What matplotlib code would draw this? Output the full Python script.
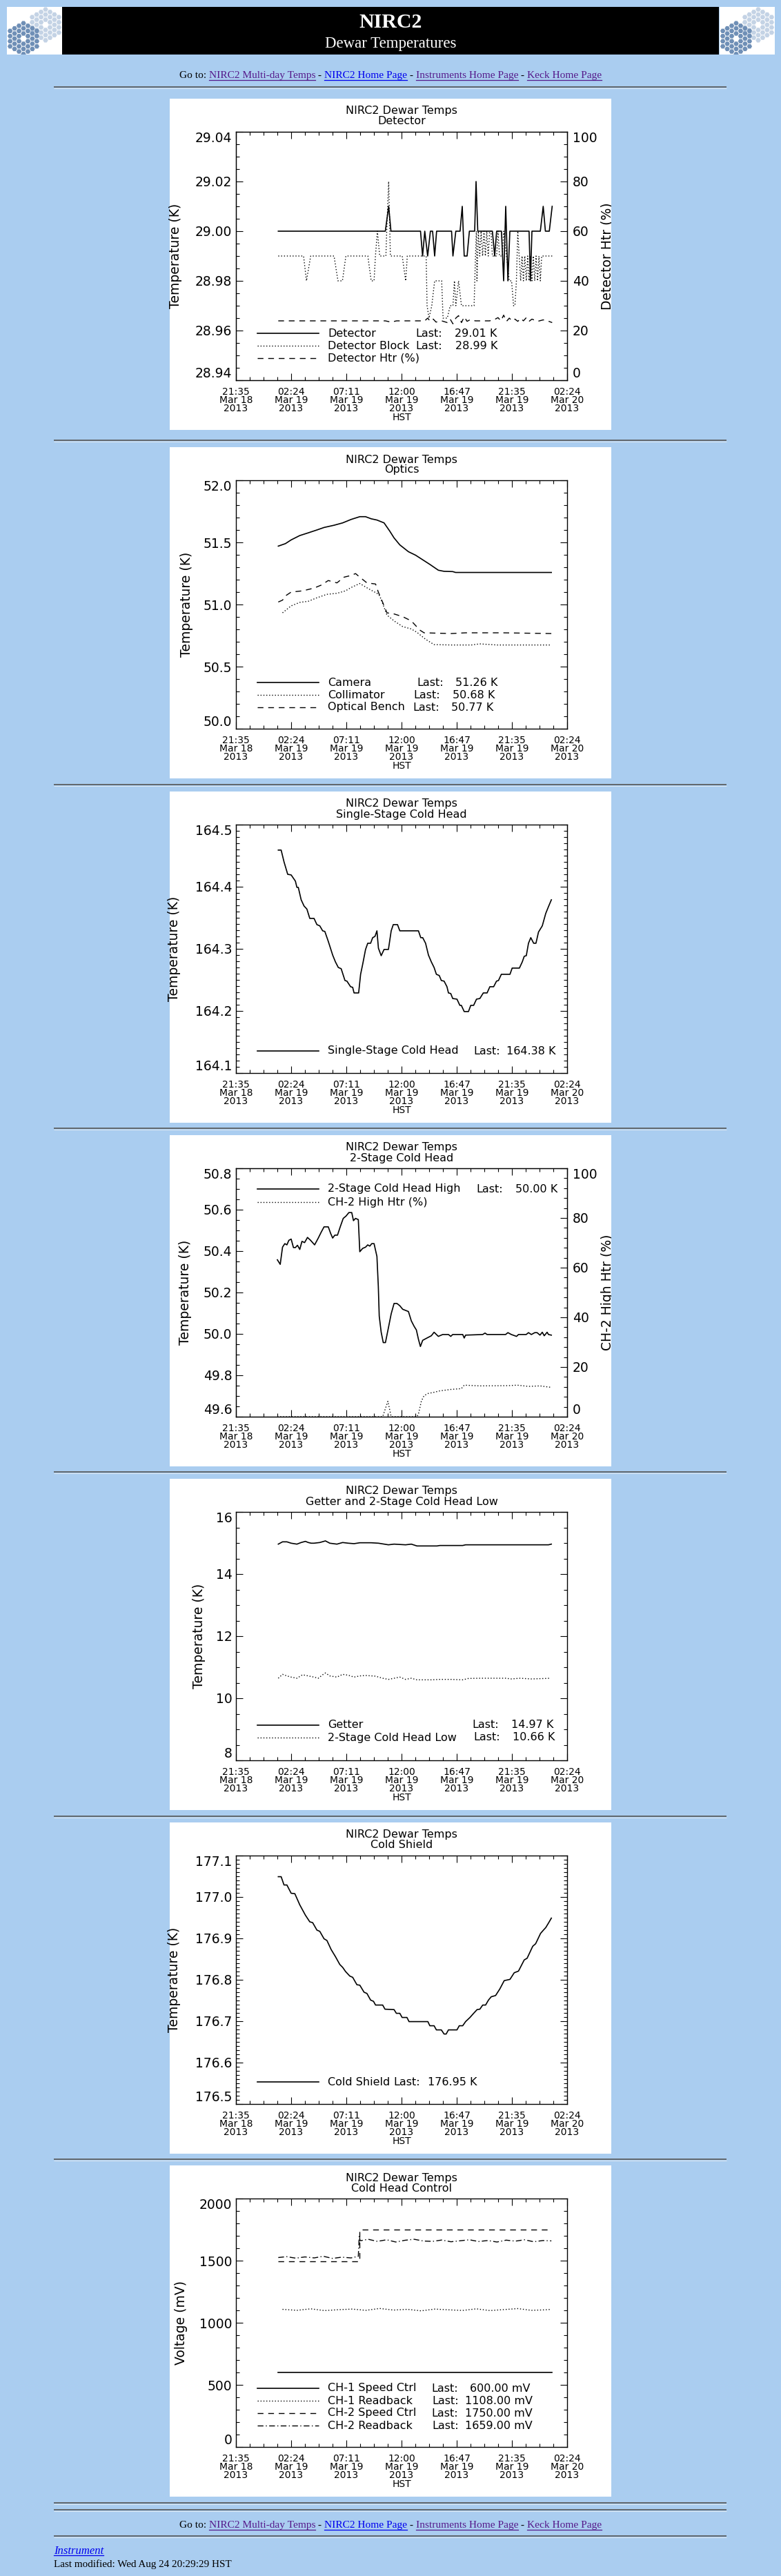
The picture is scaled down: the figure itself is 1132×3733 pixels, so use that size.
import numpy as np
import matplotlib
matplotlib.use('Agg')
import matplotlib.pyplot as plt
from matplotlib.lines import Line2D
from matplotlib.patches import Rectangle, RegularPolygon
from matplotlib.ticker import MultipleLocator

plt.rcParams['font.family'] = ['DejaVu Sans']

# time axis: hours after 21:35 HST, Mar 18 2013
XTICKS = [0, 4.8, 9.6, 14.4, 19.2, 24.0, 28.8]
XTICK_LABELS = ['21:35\nMar 18\n2013', '02:24\nMar 19\n2013', '07:11\nMar 19\n2013',
                '12:00\nMar 19\n2013', '16:47\nMar 19\n2013', '21:35\nMar 19\n2013',
                '02:24\nMar 20\n2013']

# --- Detector ---
det_t = [3.68, 12.99, 13.28, 13.48, 16.05, 16.23, 16.42, 16.67, 16.91, 17.10,
         17.28, 17.45, 18.75, 18.87, 19.12, 19.49, 19.68, 19.85, 20.10, 20.30,
         20.76, 20.88, 21.03, 22.30, 22.50, 22.67, 23.09, 23.28, 23.46, 23.65,
         23.82, 25.49, 25.61, 25.74, 26.47, 26.72, 26.91, 27.25, 27.50]
det_v = [29.00, 29.00, 29.01, 29.00, 29.00, 28.99, 29.00, 28.99, 29.00, 29.00,
         28.99, 29.00, 29.00, 28.99, 29.00, 29.00, 29.01, 28.99, 28.99, 29.00,
         29.00, 29.02, 29.00, 29.00, 28.99, 29.00, 29.00, 28.98, 29.01, 28.98,
         29.00, 29.00, 28.98, 29.00, 29.00, 29.01, 29.00, 29.00, 29.01]
blk_t = [3.68, 5.88, 6.13, 6.50, 8.53, 8.87, 9.26, 9.56, 11.47, 11.76,
         12.01, 12.13, 12.30, 12.50, 13.04, 13.11, 13.28, 13.43, 14.46, 14.76,
         14.90, 16.05, 16.30, 16.42, 16.54, 16.62, 16.79, 17.03, 17.28, 17.89,
         18.01, 18.38, 18.63, 18.87, 19.00, 19.12, 19.36, 19.61, 19.73, 20.71,
         20.83, 20.91, 20.96, 21.08, 21.20, 21.32, 21.45, 21.57, 21.69, 21.81,
         21.94, 22.06, 22.18, 22.30, 22.43, 22.67, 22.79, 22.92, 23.16, 23.28,
         23.53, 23.65, 23.77, 23.97, 24.14, 24.26, 24.39, 24.51, 24.63, 24.76,
         24.88, 25.00, 25.12, 25.25, 25.37, 25.49, 25.61, 25.74, 25.86, 25.98,
         26.10, 26.23, 26.35, 26.47, 26.59, 26.72, 27.50]
blk_v = [28.99, 28.99, 28.98, 28.99, 28.99, 28.98, 28.98, 28.99, 28.99, 28.98,
         28.98, 28.99, 29.00, 28.99, 28.99, 29.00, 29.02, 28.99, 28.99, 28.98,
         28.99, 28.99, 28.99, 28.99, 28.99, 28.97, 28.965, 28.97, 28.98, 28.98,
         28.965, 28.965, 28.97, 28.97, 28.98, 28.97, 28.98, 28.97, 28.97, 28.97,
         28.99, 29.00, 28.98, 29.00, 28.99, 29.00, 28.99, 29.00, 28.99, 29.00,
         28.99, 29.00, 29.00, 28.99, 28.99, 28.99, 29.00, 28.99, 28.99, 29.00,
         28.99, 28.985, 28.98, 28.98, 28.97, 28.97, 28.98, 29.00, 28.99, 28.98,
         28.99, 28.98, 28.99, 28.98, 28.99, 28.98, 28.99, 28.98, 28.99, 28.98,
         28.99, 28.98, 28.99, 28.98, 28.99, 28.99, 28.99]
htr_t = [3.68, 12.99, 13.48, 13.97, 16.42, 16.67, 16.91, 17.16, 17.40, 17.89,
         18.38, 18.63, 18.87, 19.12, 19.36, 19.61, 19.85, 20.10, 20.34, 20.83,
         22.06, 22.55, 22.79, 23.04, 23.28, 23.53, 23.77, 24.02, 24.26, 24.51,
         24.76, 25.00, 25.25, 25.49, 25.74, 26.23, 26.72, 27.21, 27.50]
htr_v = [23.9, 23.9, 23.4, 23.9, 23.9, 25.0, 23.7, 24.6, 23.4, 23.9,
         23.2, 24.6, 22.7, 25.0, 26.0, 23.2, 25.5, 23.7, 24.3, 23.9,
         23.9, 24.6, 25.2, 23.9, 26.2, 23.7, 25.0, 23.9, 24.6, 23.7,
         24.9, 23.9, 25.2, 23.7, 24.6, 23.7, 24.3, 23.7, 23.2]

# --- Optics ---
cam_t = [3.68, 4.30, 4.80, 5.55, 6.29, 7.04, 7.66, 8.53, 9.28, 10.02,
         10.77, 11.27, 11.76, 12.26, 12.88, 13.38, 13.75, 14.25, 15.00, 15.62,
         16.24, 16.86, 17.60, 18.10, 18.85, 19.10, 27.43]
cam_v = [51.47, 51.49, 51.52, 51.555, 51.577, 51.60, 51.62, 51.638, 51.657, 51.685,
         51.707, 51.707, 51.69, 51.68, 51.657, 51.59, 51.536, 51.48, 51.425, 51.397,
         51.36, 51.323, 51.276, 51.267, 51.265, 51.258, 51.258]
col_t = [4.05, 4.80, 5.55, 6.29, 7.04, 7.91, 8.78, 9.53, 10.02, 10.77,
         11.51, 12.26, 12.50, 12.76, 13.13, 13.75, 14.50, 15.25, 15.74, 16.49,
         17.23, 18.73, 20.47, 21.20, 22.70, 27.30]
col_v = [50.933, 50.989, 51.017, 51.026, 51.054, 51.082, 51.09, 51.11, 51.137, 51.169,
         51.128, 51.09, 51.07, 51.007, 50.915, 50.868, 50.822, 50.803, 50.776, 50.72,
         50.677, 50.674, 50.674, 50.683, 50.674, 50.674]
opt_t = [3.68, 4.05, 4.30, 4.80, 5.80, 6.79, 7.41, 8.03, 8.78, 9.40,
         10.02, 10.40, 10.77, 11.39, 12.14, 12.38, 12.76, 13.13, 13.75, 14.50,
         15.25, 15.99, 16.36, 18.73, 19.97, 23.20, 27.43]
opt_v = [51.02, 51.035, 51.069, 51.10, 51.11, 51.132, 51.156, 51.193, 51.174, 51.22,
         51.234, 51.249, 51.22, 51.174, 51.165, 51.10, 51.017, 50.933, 50.924, 50.902,
         50.868, 50.794, 50.772, 50.766, 50.772, 50.772, 50.766]

# --- Single-stage cold head ---
ss_t = [3.68, 3.93, 4.18, 4.50, 4.80, 5.17, 5.30, 5.42, 5.67, 5.92,
        6.17, 6.42, 6.79, 7.04, 7.29, 7.54, 7.73, 8.03, 8.41, 8.65,
        8.90, 9.15, 9.48, 9.65, 9.97, 10.15, 10.27, 10.67, 10.84, 11.02,
        11.27, 11.46, 11.71, 11.89, 12.09, 12.26, 12.39, 12.63, 12.88, 13.26,
        13.50, 13.68, 14.05, 14.25, 15.87, 16.07, 16.24, 16.49, 16.74, 16.99,
        17.23, 17.43, 17.68, 17.86, 18.10, 18.35, 18.48, 18.68, 18.85, 19.22,
        19.47, 19.60, 19.85, 20.22, 20.42, 20.67, 20.92, 21.21, 21.51, 21.84,
        22.08, 22.41, 22.66, 22.83, 23.08, 23.83, 24.02, 24.65, 24.90, 25.07,
        25.25, 25.44, 25.64, 25.89, 26.09, 26.31, 26.64, 26.94, 27.18, 27.43]
ss_v = [164.459, 164.459, 164.44, 164.42, 164.419, 164.409, 164.399, 164.399, 164.379, 164.369,
        164.364, 164.349, 164.349, 164.339, 164.337, 164.329, 164.328, 164.312, 164.29, 164.279,
        164.27, 164.268, 164.249, 164.248, 164.239, 164.238, 164.229, 164.229, 164.259, 164.275,
        164.299, 164.309, 164.309, 164.318, 164.32, 164.329, 164.301, 164.289, 164.299, 164.299,
        164.329, 164.339, 164.339, 164.329, 164.329, 164.318, 164.318, 164.309, 164.29, 164.279,
        164.27, 164.259, 164.257, 164.249, 164.248, 164.239, 164.229, 164.228, 164.22, 164.219,
        164.209, 164.209, 164.199, 164.199, 164.209, 164.209, 164.219, 164.22, 164.229, 164.229,
        164.239, 164.239, 164.248, 164.249, 164.259, 164.259, 164.269, 164.269, 164.279, 164.288,
        164.289, 164.309, 164.318, 164.309, 164.309, 164.327, 164.337, 164.357, 164.368, 164.379]

# --- 2-stage cold head ---
ch2_t = [3.60, 3.85, 4.05, 4.25, 4.43, 4.60, 4.80, 5.00, 5.17, 5.35,
         5.55, 5.74, 5.97, 6.22, 6.49, 6.84, 7.16, 7.41, 7.66, 8.03,
         8.23, 8.41, 8.60, 8.83, 9.08, 9.33, 9.57, 9.82, 10.07, 10.22,
         10.40, 10.64, 10.77, 11.02, 11.27, 11.46, 11.64, 11.81, 12.01, 12.26,
         12.38, 12.46, 12.63, 12.81, 13.00, 13.26, 13.50, 13.75, 14.00, 14.25,
         14.50, 15.00, 15.25, 15.50, 15.69, 15.87, 16.04, 16.24, 16.61, 16.99,
         17.23, 17.60, 17.98, 18.48, 18.68, 18.85, 19.72, 19.85, 19.97, 21.46,
         21.66, 21.84, 23.45, 23.65, 23.95, 24.40, 24.57, 25.24, 25.44, 25.69,
         25.99, 26.19, 26.44, 26.64, 26.81, 27.06, 27.18, 27.43]
ch2_v = [50.358, 50.336, 50.419, 50.436, 50.43, 50.452, 50.458, 50.417, 50.417, 50.428,
         50.408, 50.447, 50.441, 50.466, 50.452, 50.43, 50.463, 50.491, 50.517, 50.517,
         50.486, 50.463, 50.477, 50.477, 50.519, 50.558, 50.569, 50.586, 50.586, 50.547,
         50.558, 50.552, 50.397, 50.413, 50.419, 50.43, 50.424, 50.436, 50.436, 50.374,
         50.23, 50.086, 50.008, 49.958, 49.958, 50.03, 50.097, 50.147, 50.147, 50.136,
         50.119, 50.108, 50.063, 50.036, 50.019, 49.974, 49.939, 49.969, 49.98, 49.991,
         50.008, 49.988, 49.997, 49.997, 49.988, 49.997, 49.997, 49.98, 49.994, 49.997,
         50.004, 49.997, 49.997, 50.006, 49.997, 49.988, 49.997, 49.997, 50.006, 49.997,
         50.006, 50.006, 49.994, 50.008, 49.991, 50.008, 49.997, 49.994]
ch2h_t = [3.60, 12.76, 13.21, 13.50, 15.74, 15.87, 16.12, 16.36, 16.74, 17.11,
          17.73, 18.73, 19.60, 19.85, 21.21, 23.70, 24.45, 25.44, 26.44, 27.43]
ch2h_v = [0, 0, 6.2, 0, 0, 1.1, 6.2, 8.5, 9.4, 9.7,
          10.4, 11.0, 11.3, 12.7, 12.4, 12.5, 12.7, 12.2, 12.4, 11.8]

# --- Getter / 2-stage low ---
get_t = [3.68, 4.05, 4.43, 4.80, 5.30, 5.67, 6.04, 6.29, 6.54, 6.79,
         7.29, 7.78, 8.16, 8.78, 9.28, 9.77, 10.27, 10.77, 11.76, 12.39,
         13.26, 13.75, 14.75, 15.25, 15.74, 17.48, 17.73, 19.72, 19.97, 23.70,
         27.18, 27.43]
get_v = [14.963, 15.037, 15.037, 14.993, 14.963, 15.015, 15.052, 15.015, 14.993, 14.993,
         15.015, 15.067, 14.993, 14.963, 15.015, 14.993, 14.978, 15.007, 15.007, 14.993,
         14.941, 14.963, 14.941, 14.963, 14.904, 14.904, 14.919, 14.919, 14.941, 14.941,
         14.941, 14.963]
low_t = [3.68, 4.05, 4.43, 4.80, 5.30, 5.79, 6.29, 6.79, 7.16, 7.54,
         7.78, 8.16, 8.78, 9.28, 9.77, 10.27, 10.77, 11.27, 12.14, 12.76,
         13.26, 13.75, 14.25, 14.75, 15.25, 15.74, 16.99, 17.73, 18.73, 19.72,
         20.22, 21.21, 23.45, 23.95, 24.70, 25.69, 26.93, 27.30]
low_v = [10.644, 10.770, 10.719, 10.681, 10.644, 10.756, 10.719, 10.681, 10.644, 10.756,
         10.815, 10.719, 10.681, 10.770, 10.741, 10.681, 10.719, 10.733, 10.711, 10.644,
         10.607, 10.644, 10.681, 10.607, 10.644, 10.593, 10.593, 10.607, 10.607, 10.593,
         10.637, 10.644, 10.644, 10.622, 10.644, 10.622, 10.637, 10.644]

# --- Cold shield ---
cs_t = [3.68, 3.93, 4.18, 4.43, 4.80, 5.12, 5.55, 6.04, 6.42, 6.67,
        7.04, 7.29, 7.66, 7.91, 8.28, 8.65, 9.03, 9.28, 9.53, 9.90,
        10.15, 10.52, 10.77, 11.14, 11.39, 11.71, 11.96, 12.14, 12.76, 12.96,
        13.75, 13.95, 14.25, 14.45, 14.87, 15.05, 16.69, 16.86, 17.23, 17.43,
        17.86, 18.10, 18.28, 18.48, 19.22, 19.42, 19.72, 19.97, 20.35, 20.67,
        20.97, 21.21, 21.46, 21.71, 21.96, 22.20, 22.58, 22.95, 23.33, 23.83,
        24.20, 24.57, 25.07, 25.32, 25.81, 26.06, 26.49, 26.74, 26.94, 27.18,
        27.43]
cs_v = [177.049, 177.049, 177.029, 177.029, 177.009, 177.008, 176.981, 176.956, 176.940, 176.938,
        176.920, 176.917, 176.899, 176.895, 176.873, 176.856, 176.837, 176.830, 176.820, 176.809,
        176.806, 176.788, 176.787, 176.770, 176.767, 176.751, 176.748, 176.739, 176.739, 176.729,
        176.728, 176.719, 176.719, 176.709, 176.709, 176.699, 176.699, 176.689, 176.689, 176.679,
        176.679, 176.669, 176.669, 176.679, 176.679, 176.689, 176.689, 176.699, 176.709, 176.719,
        176.728, 176.729, 176.739, 176.739, 176.751, 176.759, 176.762, 176.778, 176.798, 176.801,
        176.817, 176.821, 176.848, 176.852, 176.881, 176.887, 176.912, 176.920, 176.926, 176.937,
        176.949]

# --- Cold head control (mV) ---
c1s_t = [3.68, 27.48]
c1s_v = [600, 600]
c1r_t = [4.05, 5.3, 6.5, 7.7, 8.9, 10.1, 11.3, 12.5, 13.7, 14.9,
         16.1, 17.3, 18.5, 19.7, 20.9, 22.1, 23.3, 24.5, 25.7, 26.9, 27.43]
c1r_v = [1108, 1100, 1112, 1098, 1105, 1110, 1100, 1115, 1102, 1108,
         1096, 1110, 1104, 1099, 1112, 1098, 1106, 1114, 1100, 1104, 1108]
c2s_t = [3.68, 10.72, 10.72, 27.48]
c2s_v = [1495, 1495, 1750, 1750]
c2r_t = [3.68, 4.4, 5.2, 6.0, 6.8, 7.6, 8.4, 9.2, 10.0, 10.64,
         10.72, 10.80, 11.5, 12.3, 13.1, 13.9, 14.7, 15.5, 16.3, 17.1,
         17.9, 18.7, 19.5, 20.3, 21.1, 21.9, 22.7, 23.5, 24.3, 25.1,
         25.9, 26.7, 27.43]
c2r_v = [1525, 1532, 1520, 1530, 1522, 1535, 1518, 1528, 1522, 1535,
         1700, 1660, 1672, 1655, 1668, 1650, 1664, 1672, 1658, 1655,
         1666, 1652, 1660, 1668, 1654, 1662, 1650, 1665, 1657, 1668,
         1652, 1662, 1659]

# ---------------- page layout ----------------
W, H = 1132, 3733
BG = '#aacdf0'
PANEL_X, PANEL_W, PANEL_H = 246, 640, 480
AX_X, AX_W, AX_DY, AX_H = 342, 480, 48, 360
PANEL_TOPS = [143, 648, 1147, 1645, 2143, 2641, 3138]
HR_YS = [126, 638, 1137, 1635, 2133, 2632, 3129, 3627, 3637, 3675]
SOLID, DOT, DASH, DASHDOT = '-', (0, (1, 2)), (0, (6, 5)), (0, (6, 2.5, 1, 2.5))
LW = 1.2
VISITED, LINK = '#551a8b', '#0000ee'

fig = plt.figure(figsize=(W / 100, H / 100), dpi=100, facecolor=BG)
under = fig.add_axes([0, 0, 1, 1], zorder=-5)
over = fig.add_axes([0, 0, 1, 1], zorder=5)
for a in (under, over):
    a.set_xlim(0, W)
    a.set_ylim(H, 0)
    a.axis('off')


def logo(x0):
    under.add_patch(Rectangle((x0, 10), 80, 69, facecolor='white', edgecolor='none'))
    clip = Rectangle((x0, 10), 80, 69, transform=under.transData)
    for cx, cy, col in [(x0 + 56, 36, '#c4d3e5'), (x0 + 24, 56, '#6f8fb6')]:
        for q in range(-3, 4):
            for r in range(-3, 4):
                d = max(abs(q), abs(r), abs(q + r))
                if d == 0 or d > 3:
                    continue
                hx = RegularPolygon((cx + 4.3 * 1.5 * q, cy + 4.3 * np.sqrt(3) * (r + q / 2)),
                                    6, radius=3.7, orientation=np.pi / 6,
                                    facecolor=col, edgecolor='none')
                under.add_patch(hx)
                hx.set_clip_path(clip)


logo(10)
logo(1043)
under.add_patch(Rectangle((90, 10), 952, 69, facecolor='black', edgecolor='none'))
under.text(566, 32, 'NIRC2', color='white', family='Liberation Serif', weight='bold',
           fontsize=21.5, ha='center', va='center')
under.text(566, 63, 'Dewar Temperatures', color='white', family='Liberation Serif',
           fontsize=16.5, ha='center', va='center')

for y in HR_YS:
    under.plot([78, 1053], [y, y], color='#555555', lw=1.2, solid_capstyle='butt')
    under.plot([78, 1053], [y + 1.5, y + 1.5], color='#dfe8f2', lw=0.7, solid_capstyle='butt')

renderer = fig.canvas.get_renderer()
GOTO = [('Go to: ', 'black'), ('NIRC2 Multi-day Temps', VISITED), (' - ', 'black'),
        ('NIRC2 Home Page', LINK), (' - ', 'black'), ('Instruments Home Page', VISITED),
        (' - ', 'black'), ('Keck Home Page', VISITED)]


def text_width(s, fs, **kw):
    t = under.text(0, 0, s + 'x', fontsize=fs, family='Liberation Serif', **kw)
    w = t.get_window_extent(renderer).width
    t.remove()
    t = under.text(0, 0, 'x', fontsize=fs, family='Liberation Serif', **kw)
    w -= t.get_window_extent(renderer).width
    t.remove()
    return w


full = ''.join(s for s, _ in GOTO)
fs_goto = 12 * 611 / text_width(full, 12)


def goto_line(base):
    x0 = 566 - text_width(full, fs_goto) / 2
    prefix = ''
    for s, c in GOTO:
        xs = x0 + text_width(prefix, fs_goto) if prefix else x0
        under.text(xs, base, s, color=c, fontsize=fs_goto, family='Liberation Serif',
                   va='baseline', ha='left')
        prefix += s
        if c != 'black':
            xe = x0 + text_width(prefix, fs_goto)
            under.plot([xs, xe], [base + 2.5, base + 2.5], color=c, lw=0.9)


goto_line(113)
goto_line(3663)

t = under.text(78, 3701, 'Instrument', color=LINK, fontsize=12, family='Liberation Serif',
               style='italic', va='baseline')
wi = t.get_window_extent(renderer).width
under.plot([78, 78 + wi], [3703, 3703], color=LINK, lw=0.9)
lm = 'Last modified: Wed Aug 24 20:29:29 HST'
under.text(78, 3720, lm, color='black', fontsize=12 * 258 / text_width(lm, 12),
           family='Liberation Serif', va='baseline')


def panel(top, subtitle, ylim, yticks, yminor, yfmt, ylabel, ylabel_x, right=None):
    under.add_patch(Rectangle((PANEL_X, top), PANEL_W, PANEL_H, facecolor='white',
                              edgecolor='none'))
    ax = fig.add_axes([AX_X / W, 1 - (top + AX_DY + AX_H) / H, AX_W / W, AX_H / H])
    ax.set_xlim(0, 28.8)
    ax.set_ylim(*ylim)
    ax.set_xticks(XTICKS)
    ax.set_xticklabels(XTICK_LABELS, fontsize=10, linespacing=0.82)
    ax.xaxis.set_minor_locator(MultipleLocator(1.2))
    ax.set_yticks(yticks)
    labs = ax.set_yticklabels([yfmt % v for v in yticks], fontsize=13.5)
    labs[0].set_va('bottom')
    labs[-1].set_va('top')
    ax.yaxis.set_minor_locator(MultipleLocator(yminor))
    for s in ax.spines.values():
        s.set_linewidth(1.0)
    ax.tick_params(which='both', direction='in', top=True, right=right is None, width=0.8)
    ax.tick_params(which='major', length=7)
    ax.tick_params(which='minor', length=3.5)
    ax.tick_params(axis='x', pad=7)
    ax.tick_params(axis='y', pad=4)
    ax.set_xlabel('HST', fontsize=10)
    ax.xaxis.set_label_coords(0.5, -54 / AX_H)
    ax.xaxis.label.set_va('center')
    ax.set_ylabel(ylabel, fontsize=13.5)
    ax.yaxis.set_label_coords((ylabel_x - AX_X) / AX_W, 0.5)
    ax.yaxis.label.set_va('center')
    under.text(AX_X + AX_W / 2, top + 18, 'NIRC2 Dewar Temps', fontsize=11.5,
               ha='center', va='center')
    under.text(AX_X + AX_W / 2, top + 33, subtitle, fontsize=11.5, ha='center', va='center')
    ax2 = None
    if right is not None:
        rlabel, rminor = right
        ax2 = ax.twinx()
        ax2.set_ylim(0, 100)
        rt = [0, 20, 40, 60, 80, 100]
        ax2.set_yticks(rt)
        rl = ax2.set_yticklabels([str(v) for v in rt], fontsize=13.5)
        rl[0].set_va('bottom')
        rl[-1].set_va('top')
        ax2.yaxis.set_minor_locator(MultipleLocator(rminor))
        ax2.tick_params(which='both', direction='in', left=False, right=True, width=0.8, pad=5.5)
        ax2.tick_params(which='major', length=7)
        ax2.tick_params(which='minor', length=3.5)
        ax.tick_params(which='both', right=False)
        ax2.set_ylabel(rlabel, fontsize=13.5)
        ax2.yaxis.set_label_coords((880 - AX_X) / AX_W, 0.5)
        ax2.yaxis.label.set_va('center')
        ax2.yaxis.label.set_clip_path(Rectangle((PANEL_X, top), PANEL_W, PANEL_H,
                                                transform=under.transData))
    return ax, ax2


def legend(top, rows):
    for dy, ls, pieces in rows:
        y = top + dy
        over.add_line(Line2D([373, 462], [y, y], color='black',
                             lw=LW if ls == SOLID else 1.0, ls=ls))
        for x, s in pieces:
            over.text(x, y, s, fontsize=11.5, ha='left', va='center')


# Panel 1: Detector
top = PANEL_TOPS[0]
ax, ax2 = panel(top, 'Detector', (28.94, 29.04), [28.94, 28.96, 28.98, 29.00, 29.02, 29.04],
                0.005, '%.2f', 'Temperature (K)', 254, right=('Detector Htr (%)', 5))
ax.plot(det_t, det_v, color='black', lw=LW, ls=SOLID)
ax.plot(blk_t, blk_v, color='black', lw=1.0, ls=DOT)
ax2.plot(htr_t, htr_v, color='black', lw=1.0, ls=DASH)
legend(top, [(340, SOLID, [(475, 'Detector'), (602, 'Last:'), (659, '29.01 K')]),
             (358, DOT, [(475, 'Detector Block'), (602, 'Last:'), (660, '28.99 K')]),
             (376, DASH, [(475, 'Detector Htr (%)')])])

# Panel 2: Optics
top = PANEL_TOPS[1]
ax, _ = panel(top, 'Optics', (50.0, 52.0), [50.0, 50.5, 51.0, 51.5, 52.0], 0.1, '%.1f',
              'Temperature (K)', 270)
ax.plot(cam_t, cam_v, color='black', lw=LW, ls=SOLID)
ax.plot(col_t, col_v, color='black', lw=1.0, ls=DOT)
ax.plot(opt_t, opt_v, color='black', lw=1.0, ls=DASH)
legend(top, [(341, SOLID, [(475, 'Camera'), (604, 'Last:'), (660, '51.26 K')]),
             (359, DOT, [(475, 'Collimator'), (599, 'Last:'), (656, '50.68 K')]),
             (377, DASH, [(475, 'Optical Bench'), (598, 'Last:'), (654, '50.77 K')])])

# Panel 3: Single-Stage Cold Head
top = PANEL_TOPS[2]
ax, _ = panel(top, 'Single-Stage Cold Head', (164.1, 164.5),
              [164.1, 164.2, 164.3, 164.4, 164.5], 0.01, '%.1f', 'Temperature (K)', 253)
ax.plot(ss_t, ss_v, color='black', lw=LW, ls=SOLID)
legend(top, [(376, SOLID, [(475, 'Single-Stage Cold Head'), (686, 'Last:'), (734, '164.38 K')])])

# Panel 4: 2-Stage Cold Head
top = PANEL_TOPS[3]
ax, ax2 = panel(top, '2-Stage Cold Head', (49.6, 50.8),
                [49.6, 49.8, 50.0, 50.2, 50.4, 50.6, 50.8], 0.05, '%.1f',
                'Temperature (K)', 269, right=('CH-2 High Htr (%)', 4))
ax.plot(ch2_t, ch2_v, color='black', lw=LW, ls=SOLID)
ax2.plot(ch2h_t, ch2h_v, color='black', lw=1.0, ls=DOT)
legend(top, [(78, SOLID, [(475, '2-Stage Cold Head High'), (690, 'Last:'), (747, '50.00 K')]),
             (97, DOT, [(475, 'CH-2 High Htr (%)')])])

# Panel 5: Getter and 2-Stage Cold Head Low
top = PANEL_TOPS[4]
ax, _ = panel(top, 'Getter and 2-Stage Cold Head Low', (8, 16), [8, 10, 12, 14, 16], 0.5,
              '%d', 'Temperature (K)', 288)
ax.plot(get_t, get_v, color='black', lw=LW, ls=SOLID)
ax.plot(low_t, low_v, color='black', lw=1.0, ls=DOT)
legend(top, [(357, SOLID, [(475, 'Getter'), (684, 'Last:'), (741, '14.97 K')]),
             (375, DOT, [(475, '2-Stage Cold Head Low'), (686, 'Last:'), (743, '10.66 K')])])

# Panel 6: Cold Shield
top = PANEL_TOPS[5]
ax, _ = panel(top, 'Cold Shield', (176.5, 177.1),
              [176.5, 176.6, 176.7, 176.8, 176.9, 177.0, 177.1], 0.01, '%.1f',
              'Temperature (K)', 253)
ax.plot(cs_t, cs_v, color='black', lw=LW, ls=SOLID)
legend(top, [(376, SOLID, [(475, 'Cold Shield'), (570, 'Last:'), (620, '176.95 K')])])

# Panel 7: Cold Head Control
top = PANEL_TOPS[6]
ax, _ = panel(top, 'Cold Head Control', (0, 2000), [0, 500, 1000, 1500, 2000], 100, '%d',
              'Voltage (mV)', 262)
ax.plot(c1s_t, c1s_v, color='black', lw=LW, ls=SOLID)
ax.plot(c1r_t, c1r_v, color='black', lw=1.0, ls=DOT)
ax.plot(c2s_t, c2s_v, color='black', lw=1.0, ls=DASH)
ax.plot(c2r_t, c2r_v, color='black', lw=1.0, ls=DASHDOT)
legend(top, [(323, SOLID, [(475, 'CH-1 Speed Ctrl'), (625, 'Last:'), (681, '600.00 mV')]),
             (341, DOT, [(475, 'CH-1 Readback'), (626, 'Last:'), (674, '1108.00 mV')]),
             (359, DASH, [(475, 'CH-2 Speed Ctrl'), (625, 'Last:'), (674, '1750.00 mV')]),
             (377, DASHDOT, [(475, 'CH-2 Readback'), (626, 'Last:'), (674, '1659.00 mV')])])

fig.savefig('out.png', dpi=100, facecolor=BG)
